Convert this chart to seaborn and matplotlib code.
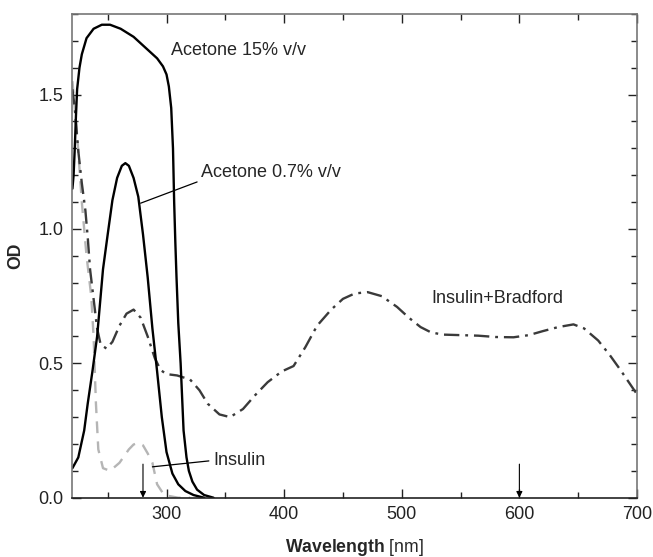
import numpy as np
import pandas as pd
import matplotlib
matplotlib.use("Agg")
import matplotlib.pyplot as plt
from matplotlib.ticker import MultipleLocator
import seaborn as sns

# Absorbance spectra (wavelength in nm, optical density)
acetone15_nm = [220, 221, 222, 223, 224, 226, 228, 232, 238, 245, 252, 261, 272, 282,
                292, 297, 300, 302, 304, 305.5, 306.5, 307.5, 308.5, 310, 312, 314.5,
                317, 319, 322, 326, 332, 340]
acetone15_od = [1.15, 1.20, 1.30, 1.42, 1.52, 1.60, 1.65, 1.71, 1.745, 1.76, 1.76,
                1.745, 1.715, 1.675, 1.635, 1.605, 1.575, 1.53, 1.45, 1.30, 1.10, 0.95,
                0.82, 0.65, 0.50, 0.25, 0.15, 0.10, 0.06, 0.03, 0.01, 0.0]

acetone07_nm = [220, 225, 230, 233, 237, 241, 246, 250, 254, 258, 262, 265, 268, 272,
                276, 280, 284, 288, 292, 296, 300, 305, 310, 316, 323, 332]
acetone07_od = [0.11, 0.15, 0.25, 0.35, 0.47, 0.60, 0.85, 0.98, 1.107, 1.19, 1.235,
                1.245, 1.235, 1.19, 1.12, 0.98, 0.82, 0.63, 0.47, 0.30, 0.17, 0.09,
                0.05, 0.025, 0.01, 0.0]

insulin_nm = [220, 224, 228, 232, 236, 238, 240, 242, 246, 252, 260, 268, 272, 276,
              280, 284, 288, 292, 298, 310, 320]
insulin_od = [1.55, 1.35, 1.10, 0.90, 0.75, 0.60, 0.35, 0.18, 0.11, 0.10, 0.13,
              0.18, 0.198, 0.205, 0.195, 0.165, 0.13, 0.05, 0.01, 0.0, 0.0]

bradford_nm = [220, 222, 225, 228, 231, 233, 235, 238, 241, 244, 249, 254, 260, 266,
               272, 278, 284, 290, 295, 300, 309, 320, 328, 335, 345, 354, 365, 375,
               386, 398, 408, 418, 428, 440, 450, 460, 471, 483, 496, 506, 516, 525,
               535, 550, 565, 580, 595, 608, 620, 633, 646, 655, 667, 677, 686, 693,
               700]
bradford_od = [1.52, 1.45, 1.29, 1.17, 1.07, 0.97, 0.85, 0.74, 0.63, 0.57, 0.555,
               0.58, 0.64, 0.685, 0.70, 0.67, 0.60, 0.52, 0.475, 0.46, 0.455, 0.44,
               0.40, 0.35, 0.31, 0.30, 0.33, 0.38, 0.43, 0.47, 0.49, 0.56, 0.64, 0.70,
               0.74, 0.76, 0.765, 0.75, 0.71, 0.67, 0.635, 0.615, 0.607, 0.605, 0.603,
               0.598, 0.597, 0.605, 0.62, 0.635, 0.645, 0.63, 0.585, 0.53, 0.475,
               0.43, 0.385]

arrow_nm = [280, 600]

x_ticks = [300, 400, 500, 600, 700]
y_ticks = [0.0, 0.5, 1.0, 1.5]

sns.set_theme(style="ticks")
plt.rcParams["font.family"] = ["Liberation Sans", "DejaVu Sans"]
plt.rcParams["mathtext.fontset"] = "custom"
plt.rcParams["mathtext.rm"] = "Liberation Sans"
plt.rcParams["mathtext.bf"] = "Liberation Sans:bold"

fig = plt.figure(figsize=(6.53, 5.57), dpi=100)
ax = fig.add_axes([0.110, 0.1064, 0.8655, 0.8685])

def draw(nm, od, **kw):
    df = pd.DataFrame({"nm": nm, "od": od})
    sns.lineplot(data=df, x="nm", y="od", ax=ax, sort=False, estimator=None, **kw)

draw(insulin_nm, insulin_od, color="#b5b5b5", lw=1.7, linestyle=(0, (5, 3.5)))
draw(bradford_nm, bradford_od, color="#3a3a3a", lw=1.7,
     linestyle=(0, (6.5, 2.5, 1.2, 2.5)))
draw(acetone07_nm, acetone07_od, color="black", lw=1.7)
draw(acetone15_nm, acetone15_od, color="black", lw=1.7)

# wavelength markers
for w in arrow_nm:
    ax.annotate("", xy=(w, 0.0), xytext=(w, 0.125),
                arrowprops=dict(arrowstyle="-|>", lw=0.8, color="black",
                                mutation_scale=9, shrinkA=0, shrinkB=0))

fs = 13
ax.text(303.5, 1.665, "Acetone 15% v/v", fontsize=fs, ha="left", va="center")
ax.text(329, 1.21, "Acetone 0.7% v/v", fontsize=fs, ha="left", va="center")
ax.plot([278, 326], [1.096, 1.175], color="black", lw=0.9)
ax.text(340, 0.137, "Insulin", fontsize=fs, ha="left", va="center")
ax.plot([288, 336], [0.115, 0.137], color="black", lw=0.9)
ax.text(525, 0.74, "Insulin+Bradford", fontsize=fs, ha="left", va="center")

ax.set_xlim(219.5, 700)
ax.set_ylim(0, 1.8)
ax.set_xticks(x_ticks)
ax.set_yticks(y_ticks)
ax.set_yticklabels([f"{v:.1f}" for v in y_ticks])
ax.xaxis.set_minor_locator(MultipleLocator(50))
ax.yaxis.set_minor_locator(MultipleLocator(0.1))
ax.tick_params(which="both", direction="in", top=True, right=True,
               labelsize=13, colors="#222222", labelcolor="#222222")
ax.tick_params(which="major", length=6.5, width=1.0, pad=6)
ax.tick_params(which="minor", length=4.3, width=1.0)

ax.set_xlabel(r"$\mathbf{Wavelength}$ [nm]", fontsize=12.7, labelpad=10)
ax.set_ylabel("OD", fontsize=12.7, fontweight="bold", labelpad=10)

for side in ["top", "right", "left"]:
    ax.spines[side].set_color("#777777")
    ax.spines[side].set_linewidth(1.2)
ax.spines["bottom"].set_color("#222222")
ax.spines["bottom"].set_linewidth(1.2)

fig.savefig("out.png", dpi=100)
